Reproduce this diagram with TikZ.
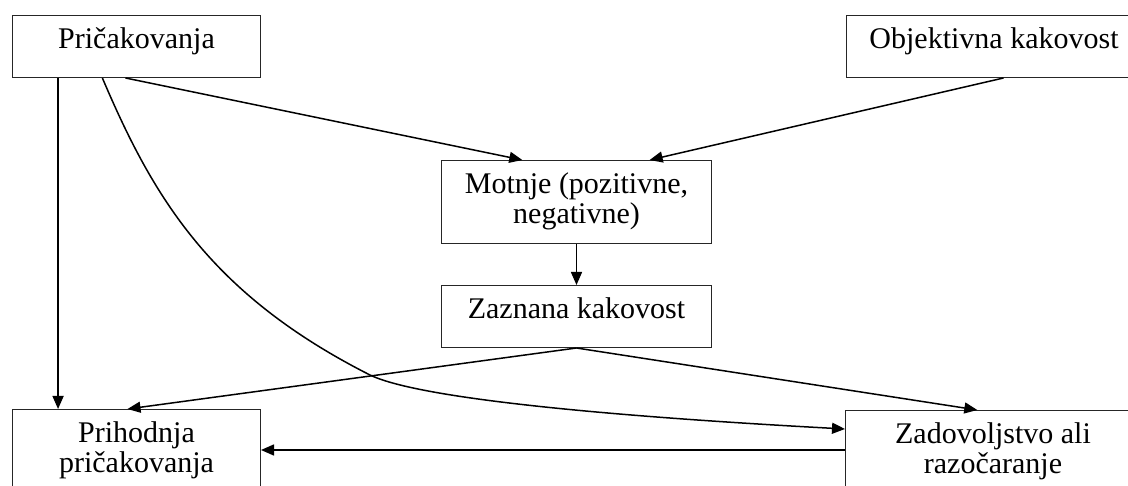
\documentclass[tikz,border=0pt]{standalone}
\usepackage{fontspec}
\setmainfont{Liberation Serif}
\usetikzlibrary{arrows.meta,calc}
\newcommand\boxtext[3]{\parbox[t][#2][t]{#1}{\centering\fontsize{30}{30}\selectfont\rule{0pt}{33pt}#3\par}}
\tikzset{
  bx/.style={draw=black!85, line width=1pt, inner sep=0pt, anchor=north west},
  arr/.style={draw=black, line width=1.5pt, -{Triangle[length=13pt,width=11pt]}}
}
\begin{document}
\begin{tikzpicture}[x=1pt,y=-1pt]
\useasboundingbox (0,0) rectangle (1128,486);
\clip (0,0) rectangle (1128,486);
\fill[white] (0,0) rectangle (1128,486);
\node[bx] (pric) at (12,15) {\boxtext{248pt}{62pt}{Pričakovanja}};
\node[bx] (obj) at (846,15) {\boxtext{295pt}{62pt}{Objektivna kakovost}};
\node[bx] (motnje) at (441,160) {\boxtext{270pt}{83pt}{Motnje (pozitivne,\\negativne)}};
\node[bx] (zazn) at (441,285) {\boxtext{270pt}{62pt}{Zaznana kakovost}};
\node[bx] (prih) at (12,409) {\boxtext{248pt}{100pt}{Prihodnja\\pričakovanja}};
\node[bx] (zad) at (845,410) {\boxtext{295pt}{100pt}{Zadovoljstvo ali\\razočaranje}};
% coordinates
\coordinate (p1) at ($(pric.south west)!0.185!(pric.south east)$);
\coordinate (p2) at ($(pric.south west)!0.363!(pric.south east)$);
\coordinate (p3) at ($(pric.south west)!0.456!(pric.south east)$);
\coordinate (o1) at ($(obj.south west)!0.532!(obj.south east)$);
\coordinate (m1) at ($(motnje.north west)!0.30!(motnje.north east)$);
\coordinate (m2) at ($(motnje.north west)!0.77!(motnje.north east)$);
\coordinate (h1) at ($(prih.north west)!0.464!(prih.north east)$);
\coordinate (z1) at ($(zad.north west)!0.447!(zad.north east)$);
\coordinate (z2) at ($(zad.north west)+(0,19)$);
\coordinate (z3) at ($(zad.north west)+(0,40)$);
\coordinate (cm) at (370,375);
% connectors
\draw[arr] (p1) -- (p1 |- prih.north);
\draw[arr] (p3) -- (m1);
\draw[arr] (o1) -- (m2);
\draw[arr] (motnje.south) -- (zazn.north);
\draw[arr] (zazn.south) -- (h1);
\draw[arr] (zazn.south) -- (z1);
\draw[arr] (z3) -- (prih.east |- z3);
\draw[arr] (p2) .. controls (153,197) and (210,294) .. (cm)
  .. controls (424,401) and (642,418) .. (z2);
\end{tikzpicture}
\end{document}
